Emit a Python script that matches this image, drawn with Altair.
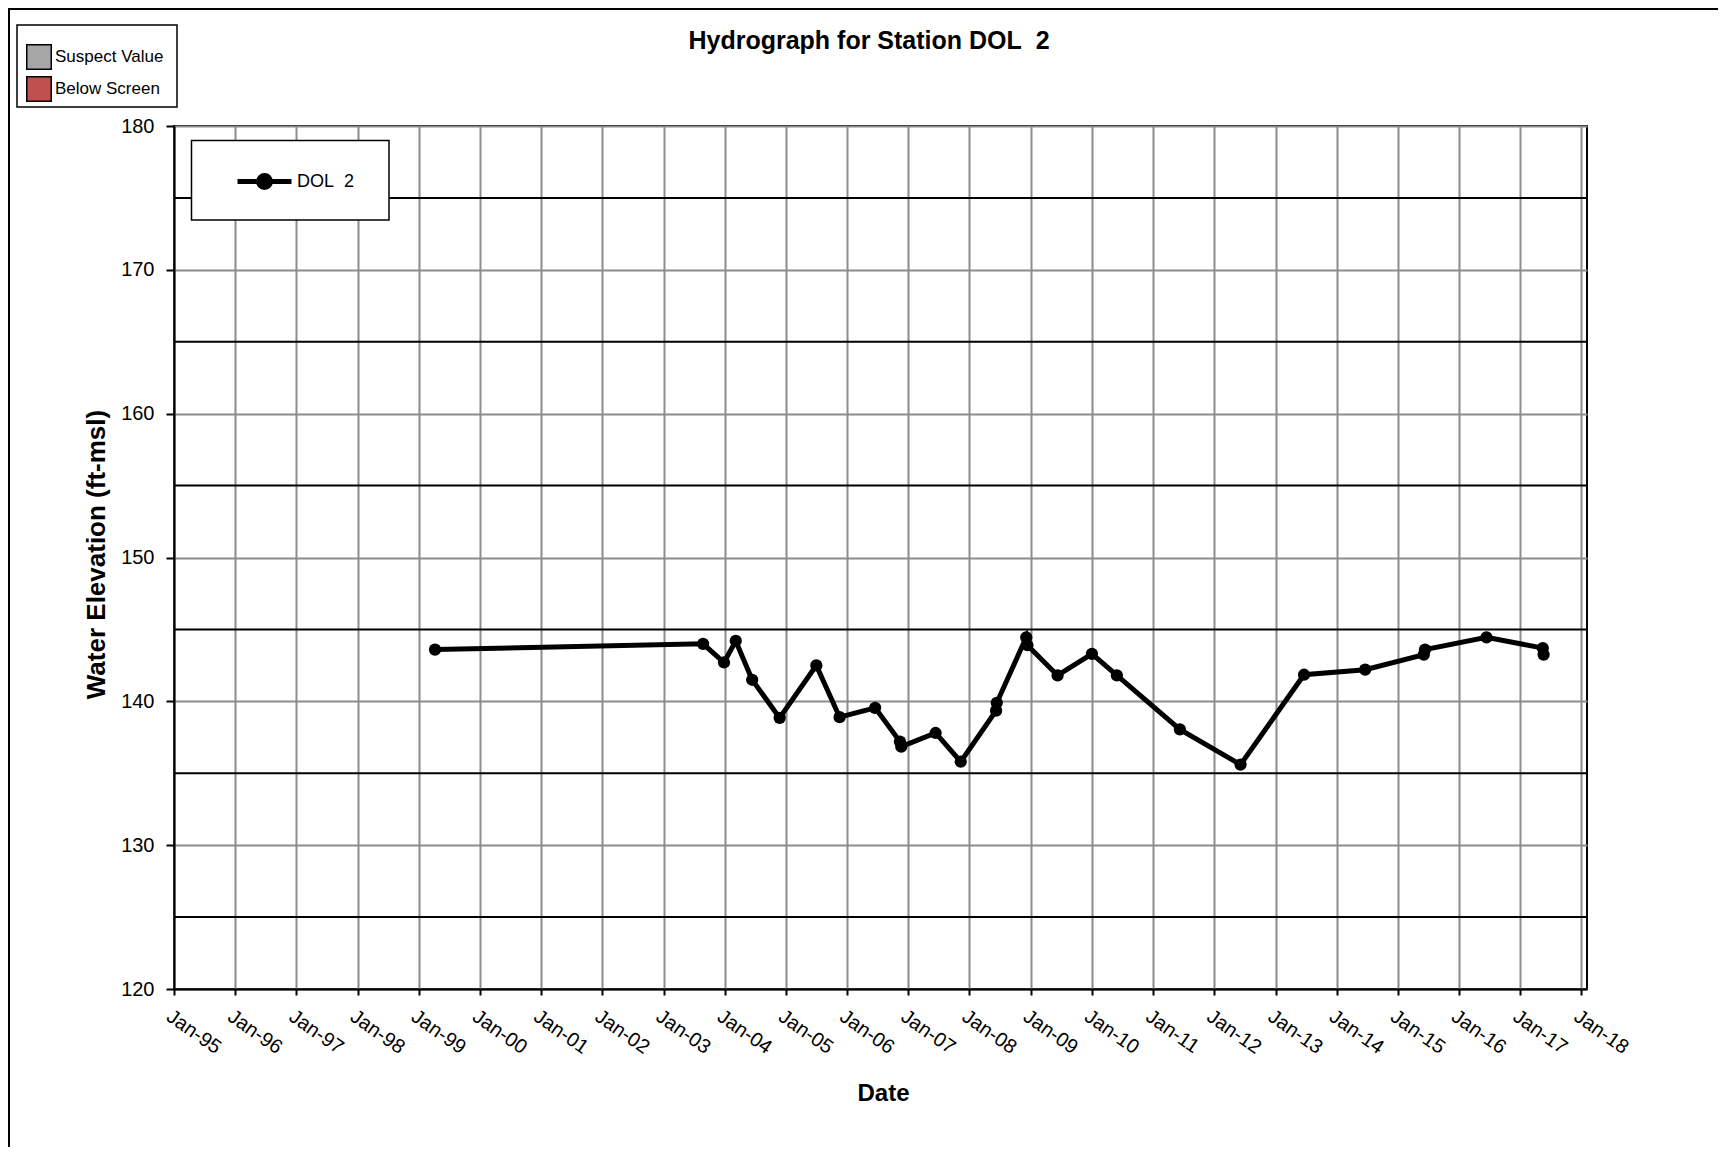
import altair as alt
import pandas as pd

# ---- data ----
dates = ["1999-04-08", "2003-08-25", "2003-12-28", "2004-03-07", "2004-06-13",
         "2004-11-24", "2005-07-01", "2005-11-17", "2006-06-17", "2006-11-12",
         "2006-11-20", "2007-06-13", "2007-11-10", "2008-06-08", "2008-06-12",
         "2008-12-05", "2008-12-12", "2009-06-10", "2010-01-01", "2010-05-30",
         "2011-06-10", "2012-06-06", "2013-06-20", "2014-06-20", "2015-06-05",
         "2015-06-12", "2016-06-13", "2017-05-15", "2017-05-20"]
levels = [143.6, 144.0, 142.7, 144.2, 141.5,
          138.85, 142.5, 138.9, 139.55, 137.2,
          136.85, 137.8, 135.8, 139.35, 139.9,
          144.45, 143.9, 141.8, 143.3, 141.8,
          138.05, 135.6, 141.85, 142.2, 143.25,
          143.6, 144.45, 143.7, 143.25]
series_name = "DOL\u00a0 2"

flag_labels = ["Suspect Value", "Below Screen"]
flag_colors = ["#A6A6A6", "#C0504D"]
flag_dates = []
flag_levels = []
flag_kinds = []

year_ticks = list(range(1995, 2019))
y_ticks = [120, 130, 140, 150, 160, 170, 180]
dark_lines = [125, 135, 145, 155, 165, 175]

title_text = "Hydrograph for Station DOL\u00a0 2"
x_title = "Date"
y_title = "Water Elevation (ft-msl)"

W, H = 1413, 863
FONT = "Liberation Sans"

df = pd.DataFrame({"date": dates, "level": levels, "series": [series_name] * len(dates)})
flags = pd.DataFrame({"date": flag_dates, "level": flag_levels, "flag": flag_kinds})
lines_df = pd.DataFrame({"v": dark_lines})
one = pd.DataFrame({"k": [0]})

x_scale = alt.Scale(type="utc", domain=[alt.DateTime(year=1995, month=1, date=1, utc=True),
                                        alt.DateTime(year=2018, month=2, date=3, utc=True)])
y_scale = alt.Scale(domain=[120, 180], nice=False, zero=False)

x_axis = alt.Axis(
    values=[alt.DateTime(year=y, month=1, date=1, utc=True) for y in year_ticks],
    format="%b-%y", labelAngle=35, labelAlign="left", labelBaseline="top",
    labelFontSize=20, labelColor="black", labelPadding=11, labelFlush=False,
    labelOverlap=False, labelBound=False,
    tickSize=6, tickColor="black", tickWidth=2,
    domainColor="black", domainWidth=2,
    grid=True, gridColor="#8C8C8C", gridWidth=2,
    titleFontSize=24, titleFontWeight="bold", titleColor="black",
    titleX=709, titleY=111, titleAlign="center", titleBaseline="alphabetic",
)
y_axis = alt.Axis(
    values=y_ticks, labelFontSize=20, labelColor="black", labelPadding=12,
    tickSize=8, tickColor="black", tickWidth=2,
    domainColor="black", domainWidth=2,
    grid=True, gridColor="#8C8C8C", gridWidth=2,
    titleFontSize=26, titleFontWeight="bold", titleColor="black",
    titleAngle=270, titleX=-70, titleY=428, titleAlign="center", titleBaseline="alphabetic",
)

dark = alt.Chart(lines_df).mark_rule(color="black", strokeWidth=2).encode(
    y=alt.Y("v:Q", scale=y_scale)
)

frame = alt.Chart(one).mark_rect(filled=False, stroke="black", strokeWidth=2).encode(
    x=alt.value(-165), x2=alt.value(1700), y=alt.value(-117), y2=alt.value(1300)
)
flag_box = alt.Chart(one).mark_rect(fill="white", stroke="black", strokeWidth=1.5).encode(
    x=alt.value(-157), x2=alt.value(3), y=alt.value(-101), y2=alt.value(-19)
)
series_box = alt.Chart(one).mark_rect(fill="white", stroke="black", strokeWidth=1.5).encode(
    x=alt.value(17.5), x2=alt.value(215), y=alt.value(14.5), y2=alt.value(94)
)

sym_path = "M-1,0L1,0M0.22,0A0.22,0.22,0,1,1,-0.22,0A0.22,0.22,0,1,1,0.22,0Z"

line = alt.Chart(df).mark_line(strokeWidth=5).encode(
    x=alt.X("date:T", scale=x_scale, axis=x_axis, title=x_title),
    y=alt.Y("level:Q", scale=y_scale, axis=y_axis, title=y_title),
    color=alt.Color("series:N", scale=alt.Scale(range=["black"]), title=None,
                    legend=alt.Legend(orient="none", legendX=61, legendY=26,
                                      symbolType=sym_path, symbolSize=2916,
                                      symbolStrokeWidth=5, symbolStrokeColor="black",
                                      symbolFillColor="black",
                                      labelFontSize=18, labelColor="black",
                                      labelOffset=3, padding=0)),
)
points = alt.Chart(df).mark_circle(size=150, color="black", opacity=1).encode(
    x="date:T", y="level:Q"
)
flag_layer = alt.Chart(flags).mark_square(size=100).encode(
    x="date:T", y="level:Q",
    fill=alt.Fill("flag:N", scale=alt.Scale(domain=flag_labels, range=flag_colors), title=None,
                  legend=alt.Legend(orient="none", legendX=-148, legendY=-82,
                                    symbolType="square", symbolSize=600,
                                    symbolStrokeColor="black", symbolStrokeWidth=1.5,
                                    symbolOpacity=1, rowPadding=0, padding=0,
                                    labelFontSize=17, labelColor="black", labelOffset=3)),
)
title = alt.Chart(one).mark_text(text=title_text, fontSize=25, fontWeight="bold",
                                 align="center", baseline="alphabetic", color="black").encode(
    x=alt.value(695), y=alt.value(-77)
)

chart = alt.layer(dark, frame, flag_box, series_box, line, points, flag_layer, title).properties(
    width=W, height=H,
    autosize=alt.AutoSizeParams(type="none"),
    padding={"left": 166, "top": 118, "right": 131, "bottom": 158},
).configure(font=FONT).configure_view(stroke="black", strokeWidth=2)

chart.save("out.html", embed_options={"renderer": "svg", "actions": False})
